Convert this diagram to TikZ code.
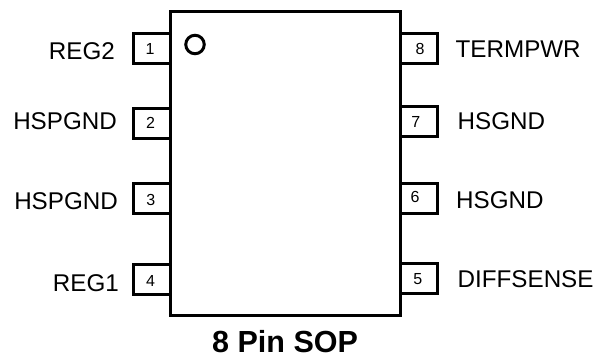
\documentclass[tikz,border=0pt]{standalone}
\usepackage{fontspec}
\setmainfont{Liberation Sans}
\begin{document}
\begin{tikzpicture}[x=1pt,y=-1pt,
 pinbox/.style={draw=black,line width=3pt,minimum width=37pt,minimum height=30pt,inner sep=0pt},
 pinnum/.style={inner sep=0pt,font=\fontsize{16}{16}\selectfont},
 lab/.style={inner sep=0pt,font=\fontsize{24.2}{24.2}\selectfont}]
\useasboundingbox (0,0) rectangle (597,354);
\node[pinbox] (p1) at (151.5,48.5) {};
\node[pinbox] (p2) at (151.5,123.5) {};
\node[pinbox] (p3) at (151.5,198.5) {};
\node[pinbox] (p4) at (151.5,279) {};
\node[pinbox] (p8) at (418.5,48) {};
\node[pinbox] (p7) at (418.5,121.7) {};
\node[pinbox] (p6) at (418.5,198) {};
\node[pinbox] (p5) at (418.5,278) {};
\node[pinnum] (n1) at (150,49) {1};
\node[pinnum] (n2) at (150.5,122.7) {2};
\node[pinnum] (n3) at (150.7,200) {3};
\node[pinnum] (n4) at (150.5,281.3) {4};
\node[pinnum] (n8) at (420,49) {8};
\node[pinnum] (n7) at (415.7,121.7) {7};
\node[pinnum] (n6) at (415,197) {6};
\node[pinnum] (n5) at (417.7,278.6) {5};
\node[draw=black,line width=3pt,minimum width=230.5pt,minimum height=303.5pt,inner sep=0pt] (body) at (285.25,163.25) {};
\node[draw=black,line width=3pt,circle,minimum size=18.5pt,inner sep=0pt] (dot) at (195,44.5) {};
\node[lab,anchor=east] (l1) at (115,51) {REG2};
\node[lab,anchor=east] (l2) at (117,121.5) {HSPGND};
\node[lab,anchor=east] (l3) at (118,201) {HSPGND};
\node[lab,anchor=east] (l4) at (119,283) {REG1};
\node[lab,anchor=west] (l8) at (455.5,49.5) {TERMPWR};
\node[lab,anchor=west] (l7) at (457.5,121) {HSGND};
\node[lab,anchor=west] (l6) at (456,200.5) {HSGND};
\node[lab,anchor=west] (l5) at (457.5,279) {DIFFSENSE};
\node[inner sep=0pt,anchor=west,font=\bfseries\fontsize{30.5}{30.5}\selectfont] (title) at (212,341.5) {8 Pin SOP};
\end{tikzpicture}
\end{document}
